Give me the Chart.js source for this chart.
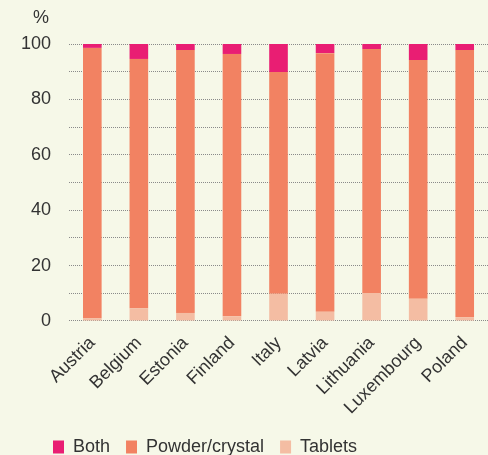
<!DOCTYPE html>
<html>
<head>
<meta charset="utf-8">
<script src="https://cdn.jsdelivr.net/npm/chart.js@4/dist/chart.umd.min.js"></script>
<style>
html,body{margin:0;padding:0;background:#F6F8E8;}
#wrap{width:488px;height:455px;position:relative;}
</style>
</head>
<body>
<div id="wrap"><canvas id="c" width="488" height="455"></canvas></div>
<script>
const categories = ["Austria","Belgium","Estonia","Finland","Italy","Latvia","Lithuania","Luxembourg","Poland"];
const tablets = [1.0, 4.6, 2.9, 1.7, 9.8, 3.3, 10.1, 8.0, 1.4];
const powder = [97.6, 90.0, 94.9, 94.7, 80.1, 93.4, 88.1, 86.2, 96.4];
const both = [1.4, 5.4, 2.2, 3.6, 10.1, 3.3, 1.8, 5.8, 2.2];
const yTicks = [0, 20, 40, 60, 80, 100];

const FONT = "'Liberation Sans', Arial, sans-serif";

const pctPlugin = {
  id: 'pct',
  afterLayout(chart) {
    if (chart.legend) {
      chart.legend.left += 34;
    }
  },
  afterDraw(chart) {
    const ctx = chart.ctx;
    ctx.save();
    ctx.font = "18px " + FONT;
    ctx.fillStyle = '#333';
    ctx.textAlign = 'right';
    ctx.textBaseline = 'middle';
    ctx.fillText('%', chart.chartArea.left - 20, 18);
    ctx.restore();
  }
};

new Chart(document.getElementById('c'), {
  type: 'bar',
  data: {
    labels: categories,
    datasets: [
      {label: 'Tablets', data: tablets, backgroundColor: '#F4BDA3'},
      {label: 'Powder/crystal', data: powder, backgroundColor: '#F28262'},
      {label: 'Both', data: both, backgroundColor: '#E91E73'}
    ]
  },
  options: {
    responsive: false,
    animation: false,
    layout: {padding: {top: 44, right: -3, left: 3, bottom: -11}},
    datasets: {bar: {barPercentage: 0.4, categoryPercentage: 1.0}},
    plugins: {
      legend: {
        position: 'bottom',
        reverse: true,
        align: 'start',
        labels: {
          boxWidth: 11, boxHeight: 13, padding: 16,
          color: '#333', font: {family: FONT, size: 18}
        }
      },
      tooltip: {enabled: false}
    },
    scales: {
      x: {
        stacked: true,
        grid: {display: false},
        border: {display: false},
        afterFit: s => { s.paddingLeft = 0; s.paddingRight = 0; },
        ticks: {
          minRotation: 45, maxRotation: 45, padding: 3.5,
          color: '#333', font: {family: FONT, size: 18}
        }
      },
      y: {
        stacked: true,
        min: 0, max: 100,
        border: {display: false, dash: [1, 1]},
        grid: {color: '#8a8a8a', lineWidth: 1, drawTicks: false},
        ticks: {
          stepSize: 10, padding: 18,
          color: '#333', font: {family: FONT, size: 18},
          callback: v => yTicks.includes(v) ? v : ''
        }
      }
    }
  },
  plugins: [pctPlugin]
});
</script>
</body>
</html>
